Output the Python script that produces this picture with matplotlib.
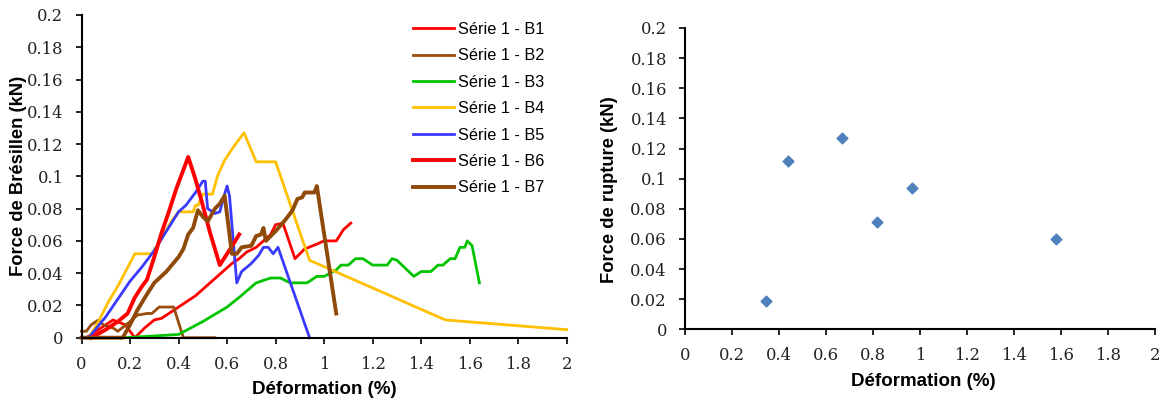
import matplotlib
matplotlib.use("Agg")
import matplotlib.pyplot as plt

# --- Série 1 curves: force (kN) vs déformation (%) ---
b1_x = [0.02, 0.08, 0.13, 0.18, 0.22, 0.26, 0.30, 0.33, 0.37, 0.40, 0.43, 0.47, 0.50, 0.53,
        0.56, 0.59, 0.62, 0.65, 0.68, 0.72, 0.75, 0.78, 0.80, 0.83, 0.88, 0.92, 0.97, 1.00,
        1.05, 1.08, 1.11]
b1_y = [0.0, 0.006, 0.011, 0.008, 0.0, 0.006, 0.011, 0.012, 0.016, 0.019, 0.022, 0.026, 0.030,
        0.034, 0.038, 0.042, 0.046, 0.049, 0.053, 0.056, 0.060, 0.064, 0.070, 0.071, 0.049,
        0.055, 0.058, 0.060, 0.060, 0.067, 0.071]

b2_x = [0.0, 0.02, 0.04, 0.07, 0.09, 0.13, 0.15, 0.20, 0.23, 0.27, 0.29, 0.32, 0.38, 0.42, 0.55]
b2_y = [0.004, 0.004, 0.008, 0.011, 0.008, 0.006, 0.004, 0.010, 0.014, 0.015, 0.015, 0.019,
        0.019, 0.0, 0.0]

b3_x = [0.18, 0.40, 0.50, 0.60, 0.65, 0.72, 0.78, 0.82, 0.86, 0.93, 0.97, 1.00, 1.05, 1.07,
        1.10, 1.13, 1.16, 1.20, 1.26, 1.28, 1.30, 1.37, 1.40, 1.44, 1.47, 1.49, 1.52, 1.54,
        1.56, 1.58, 1.59, 1.61, 1.64]
b3_y = [0.0, 0.002, 0.010, 0.019, 0.025, 0.034, 0.037, 0.037, 0.034, 0.034, 0.038, 0.038,
        0.042, 0.045, 0.045, 0.049, 0.049, 0.045, 0.045, 0.049, 0.048, 0.038, 0.041, 0.041,
        0.045, 0.045, 0.049, 0.049, 0.056, 0.056, 0.060, 0.057, 0.034]

b4_x = [0.03, 0.07, 0.11, 0.15, 0.22, 0.29, 0.32, 0.37, 0.40, 0.46, 0.47, 0.48, 0.50, 0.54,
        0.56, 0.59, 0.63, 0.67, 0.72, 0.80, 0.94, 1.50, 2.00]
b4_y = [0.0, 0.010, 0.022, 0.032, 0.052, 0.052, 0.059, 0.072, 0.078, 0.078, 0.082, 0.082,
        0.089, 0.089, 0.100, 0.110, 0.119, 0.127, 0.109, 0.109, 0.048, 0.011, 0.005]

b5_x = [0.03, 0.10, 0.15, 0.20, 0.25, 0.30, 0.35, 0.40, 0.43, 0.47, 0.50, 0.51, 0.52, 0.55,
        0.57, 0.59, 0.60, 0.61, 0.64, 0.66, 0.70, 0.73, 0.75, 0.77, 0.79, 0.81, 0.94]
b5_y = [0.0, 0.013, 0.024, 0.035, 0.044, 0.054, 0.066, 0.078, 0.082, 0.090, 0.097, 0.097,
        0.080, 0.077, 0.078, 0.089, 0.094, 0.088, 0.034, 0.041, 0.046, 0.051, 0.056, 0.056,
        0.052, 0.056, 0.0]

b6_x = [0.04, 0.10, 0.15, 0.19, 0.22, 0.25, 0.27, 0.30, 0.33, 0.36, 0.39, 0.42, 0.44, 0.47,
        0.50, 0.53, 0.57, 0.60, 0.63, 0.65]
b6_y = [0.0, 0.005, 0.010, 0.015, 0.025, 0.032, 0.036, 0.050, 0.065, 0.078, 0.092, 0.104,
        0.112, 0.098, 0.082, 0.065, 0.045, 0.052, 0.059, 0.064]

b7_x = [0.0, 0.17, 0.20, 0.23, 0.27, 0.30, 0.35, 0.40, 0.42, 0.44, 0.46, 0.48, 0.50, 0.52,
        0.55, 0.57, 0.59, 0.62, 0.64, 0.66, 0.70, 0.72, 0.74, 0.75, 0.76, 0.80, 0.84, 0.87,
        0.89, 0.91, 0.92, 0.96, 0.97, 1.05]
b7_y = [0.0, 0.0, 0.008, 0.017, 0.027, 0.034, 0.041, 0.050, 0.055, 0.064, 0.068, 0.079,
        0.075, 0.072, 0.080, 0.083, 0.088, 0.052, 0.052, 0.056, 0.057, 0.063, 0.064, 0.068,
        0.060, 0.066, 0.073, 0.079, 0.086, 0.087, 0.090, 0.090, 0.094, 0.015]

# --- rupture points ---
rupt_x = [0.346, 0.438, 0.668, 0.818, 0.964, 1.577]
rupt_y = [0.019, 0.112, 0.127, 0.071, 0.094, 0.060]

series = [
    ("Série 1 - B1", b1_x, b1_y, "#ff0000", 2.0),
    ("Série 1 - B2", b2_x, b2_y, "#994c0c", 2.0),
    ("Série 1 - B3", b3_x, b3_y, "#00c400", 2.0),
    ("Série 1 - B4", b4_x, b4_y, "#ffc000", 2.0),
    ("Série 1 - B5", b5_x, b5_y, "#3a3aff", 2.0),
    ("Série 1 - B6", b6_x, b6_y, "#ff0000", 2.8),
    ("Série 1 - B7", b7_x, b7_y, "#8f4a0a", 2.8),
]

x_ticks = [0, 0.2, 0.4, 0.6, 0.8, 1, 1.2, 1.4, 1.6, 1.8, 2]
y_ticks = [0, 0.02, 0.04, 0.06, 0.08, 0.1, 0.12, 0.14, 0.16, 0.18, 0.2]

W, H = 1164, 403
fig = plt.figure(figsize=(W / 100, H / 100), dpi=100)
fig.patch.set_facecolor("white")

ax1 = fig.add_axes([81.5 / W, 1 - 337.7 / H, 485.2 / W, 322.7 / H])
ax2 = fig.add_axes([685 / W, 1 - 329.3 / H, 470 / W, 301.3 / H])

TICK_FONT = {"family": "DejaVu Serif", "size": 11.8}
XLABEL_FONT = {"family": "Liberation Sans", "size": 13.5, "weight": "bold"}
YLABEL_FONT = {"family": "Liberation Sans", "size": 13.2, "weight": "bold"}


def style_axes(ax):
    ax.set_xlim(0, 2)
    ax.set_ylim(0, 0.2)
    ax.set_xticks(x_ticks)
    ax.set_yticks(y_ticks)
    ax.set_xticklabels([f"{t:g}" for t in x_ticks], fontdict=TICK_FONT, color="#222222")
    ax.set_yticklabels([f"{t:g}" for t in y_ticks], fontdict=TICK_FONT, color="#222222")
    ax.tick_params(direction="out", length=4.5, width=1.2, pad=8.5)
    for side in ("top", "right"):
        ax.spines[side].set_visible(False)
    for side in ("left", "bottom"):
        ax.spines[side].set_linewidth(1.5)
    ax.set_xlabel("Déformation (%)", fontdict=XLABEL_FONT, va="center")


for label, xs, ys, color, lw in series:
    ax1.plot(xs, ys, color=color, lw=lw, label=label, solid_joinstyle="round",
             clip_on=False)
style_axes(ax1)
ax1.set_ylabel("Force de Brésillen (kN)", fontdict=YLABEL_FONT, va="center")
ax1.xaxis.set_label_coords(0.5, (337.7 - 390) / 322.7)
ax1.yaxis.set_label_coords((19 - 81.5) / 485.2, 0.5)

ax1.legend(loc="upper left", bbox_to_anchor=(413 / W, 1 - 22 / H),
           bbox_transform=fig.transFigure, frameon=False,
           prop={"family": "Liberation Sans", "size": 11.7},
           handlelength=2.5, handletextpad=0.25, labelspacing=0.70,
           borderpad=0, borderaxespad=0)

ax2.scatter(rupt_x, rupt_y, marker="D", s=30, color="#4f81bd", zorder=3)
style_axes(ax2)
ax2.set_ylabel("Force de rupture (kN)", fontdict=YLABEL_FONT, va="center")
ax2.xaxis.set_label_coords((923 - 685) / 470, (329.3 - 381.7) / 301.3)
ax2.yaxis.set_label_coords((609 - 685) / 470, (329.3 - 190) / 301.3)

fig.savefig("out.png", dpi=100, facecolor="white")
